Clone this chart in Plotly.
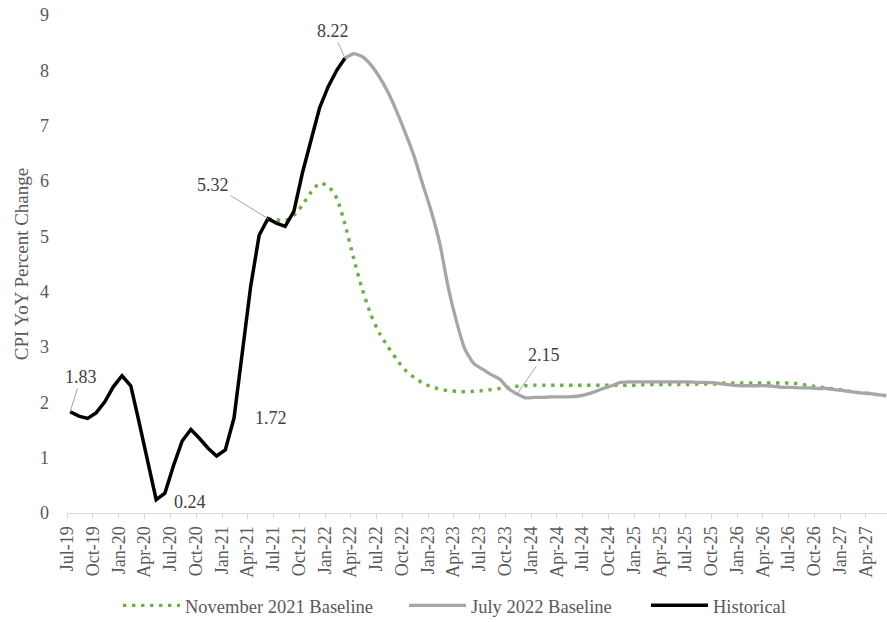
import pandas as pd
import plotly.graph_objects as go

# Months from Jul-2019 to Jun-2027 (96 monthly observations)
months = pd.date_range("2019-07-01", periods=96, freq="MS")

historical = [1.83, 1.75, 1.71, 1.81, 2.01, 2.28, 2.48, 2.30, 1.65, 0.96,
              0.24, 0.36, 0.85, 1.30, 1.51, 1.35, 1.17, 1.03, 1.14, 1.72,
              2.85, 4.10, 5.02, 5.32, 5.24, 5.18, 5.45, 6.14, 6.74, 7.32,
              7.71, 8.01, 8.22]

nov2021_start = 23  # series visible from Jun-21
nov2021 = [5.32, 5.30, 5.28, 5.38, 5.56, 5.80, 5.96, 5.91, 5.68, 5.22,
           4.60, 4.05, 3.58, 3.25, 3.00, 2.77, 2.58, 2.45, 2.35, 2.28,
           2.24, 2.21, 2.20, 2.19, 2.20, 2.21, 2.23, 2.25, 2.27, 2.29,
           2.30, 2.31, 2.31, 2.31, 2.31, 2.31, 2.31, 2.31, 2.31, 2.31,
           2.31, 2.31, 2.31, 2.31, 2.32, 2.32, 2.32, 2.32, 2.32, 2.32,
           2.33, 2.33, 2.33, 2.35, 2.35, 2.35, 2.35, 2.35, 2.35, 2.35,
           2.35, 2.35, 2.33, 2.30, 2.28, 2.26, 2.24, 2.22, 2.19, 2.17,
           2.16, 2.14, 2.12]

jul2022_start = 32  # series visible from Mar-22
jul2022 = [8.22, 8.30, 8.25, 8.10, 7.88, 7.60, 7.25, 6.87, 6.45, 5.95,
           5.45, 4.85, 4.10, 3.45, 2.95, 2.70, 2.60, 2.50, 2.42, 2.25,
           2.15, 2.08, 2.09, 2.09, 2.10, 2.10, 2.10, 2.11, 2.14, 2.19,
           2.25, 2.30, 2.36, 2.37, 2.37, 2.37, 2.37, 2.37, 2.37, 2.37,
           2.37, 2.36, 2.36, 2.35, 2.33, 2.31, 2.30, 2.30, 2.30, 2.30,
           2.29, 2.27, 2.27, 2.26, 2.26, 2.25, 2.25, 2.23, 2.21, 2.19,
           2.17, 2.16, 2.14, 2.12]

# data labels: (series, month index, text, arrow dx, arrow dy, showarrow)
labels = [
    ("hist", 0, "1.83", 11, -35, True),
    ("hist", 10, "0.24", 34, -2, False),
    ("hist", 19, "1.72", 37, 0, False),
    ("hist", 23, "5.32", -55, -34, True),
    ("hist", 32, "8.22", -12, -27, True),
    ("jul", 52, "2.15", 27, -39, True),
]

# observations plotted mid-month-ish
x_all = months + pd.Timedelta(days=11)

FONT = "Liberation Serif, Times New Roman, serif"
fig = go.Figure()

fig.add_trace(go.Scatter(
    x=x_all[nov2021_start:nov2021_start + len(nov2021)], y=nov2021,
    mode="lines", name="November 2021 Baseline", legend="legend",
    line=dict(color="#70ad47", width=3.4, dash="3.4px,5.6px", shape="spline", smoothing=0.5),
    hoverinfo="skip"))
fig.add_trace(go.Scatter(
    x=x_all[jul2022_start:jul2022_start + len(jul2022)], y=jul2022,
    mode="lines", name="July 2022 Baseline", legend="legend2",
    line=dict(color="#a6a6a6", width=3.3, shape="spline", smoothing=0.5),
    hoverinfo="skip"))
fig.add_trace(go.Scatter(
    x=x_all[:len(historical)], y=historical,
    mode="lines", name="Historical", legend="legend3",
    line=dict(color="#000000", width=3.5),
    hoverinfo="skip"))

series_map = {"hist": (0, historical), "jul": (jul2022_start, jul2022)}
for key, idx, txt, dx, dy, arrow in labels:
    start, vals = series_map[key]
    xv = x_all[idx]
    yv = vals[idx - start]
    if arrow:
        fig.add_annotation(x=xv, y=yv, text=txt, showarrow=True, ax=dx, ay=dy,
                           arrowhead=0, arrowwidth=1, arrowcolor="#a6a6a6", standoff=0,
                           font=dict(family=FONT, size=18, color="#404040"))
    else:
        fig.add_annotation(x=xv, y=yv, text=txt, showarrow=False, xshift=dx, yshift=dy,
                           font=dict(family=FONT, size=18, color="#404040"))

legend_common = dict(orientation="h", xref="container", yref="container",
                     xanchor="left", y=0.026, yanchor="middle",
                     font=dict(family=FONT, size=18.5, color="#595959"),
                     itemwidth=57, bgcolor="rgba(0,0,0,0)")

fig.update_layout(
    width=887, height=622,
    margin=dict(l=67, r=0, t=15, b=109, autoexpand=False),
    paper_bgcolor="white", plot_bgcolor="white",
    font=dict(family=FONT, size=18, color="#595959"),
    showlegend=True,
    legend=dict(x=118 / 887, **legend_common),
    legend2=dict(x=404 / 887, **legend_common),
    legend3=dict(x=646 / 887, **legend_common),
)
fig.update_xaxes(
    type="date", range=["2019-07-01", "2027-06-15"], automargin=False,
    tick0="2019-07-01", dtick="M3", tickformat="%b-%y", tickangle=-90,
    showgrid=False, showline=True, linecolor="#d9d9d9", linewidth=1,
    ticks="outside", ticklen=5, tickcolor="#d9d9d9",
    tickfont=dict(family=FONT, size=18, color="#595959"), zeroline=False)
fig.update_yaxes(
    range=[0, 9], dtick=1, showgrid=False, showline=False, zeroline=False,
    ticks="", ticklabelstandoff=17, automargin=False,
    tickfont=dict(family=FONT, size=18, color="#595959"),
    title=dict(text="CPI YoY Percent Change", standoff=6,
               font=dict(family=FONT, size=19, color="#595959")))

fig.write_html("out.html", config={"displayModeBar": False},
               post_script="document.body.style.margin='0';document.body.style.padding='0';")
